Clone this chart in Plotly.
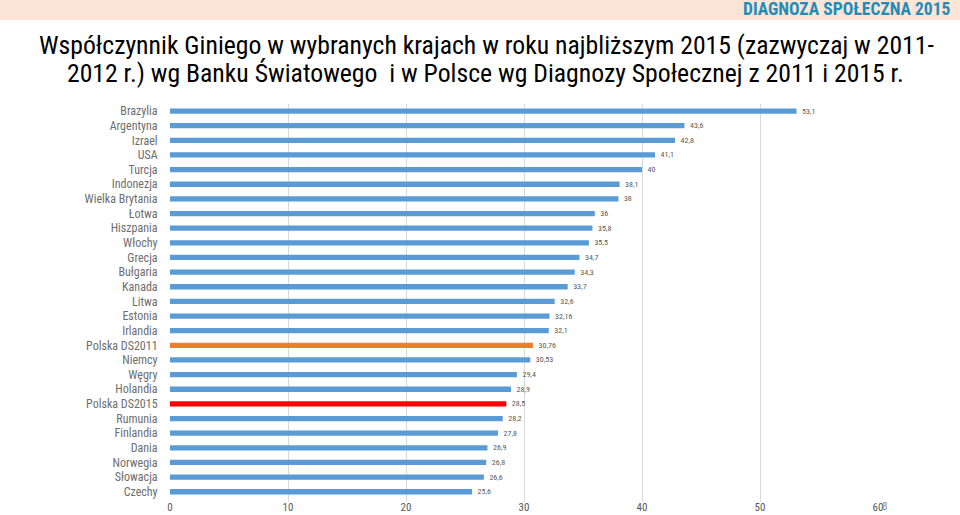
import plotly.graph_objects as go

countries = ["Brazylia", "Argentyna", "Izrael", "USA", "Turcja", "Indonezja",
             "Wielka Brytania", "Łotwa", "Hiszpania", "Włochy", "Grecja", "Bułgaria",
             "Kanada", "Litwa", "Estonia", "Irlandia", "Polska DS2011", "Niemcy",
             "Węgry", "Holandia", "Polska DS2015", "Rumunia", "Finlandia", "Dania",
             "Norwegia", "Słowacja", "Czechy"]
gini = [53.1, 43.6, 42.8, 41.1, 40, 38.1, 38, 36, 35.8, 35.5, 34.7, 34.3,
        33.7, 32.6, 32.16, 32.1, 30.76, 30.53, 29.4, 28.9, 28.5, 28.2, 27.8,
        26.9, 26.8, 26.6, 25.6]
x_ticks = [0, 10, 20, 30, 40, 50, 60]

BLUE = "#5B9BD5"
ORANGE = "#ED7D31"
RED = "#FF0000"
colors = [ORANGE if c == "Polska DS2011" else RED if c == "Polska DS2015" else BLUE
          for c in countries]
labels = ["   " + f"{v:g}".replace(".", ",") for v in gini]

FONT = "Liberation Sans Narrow, Roboto Condensed, Lato, sans-serif"
W, H = 960, 515
ML, MR, MT, MB = 170, 82, 104, 13
PW, PH = W - ML - MR, H - MT - MB


def px_x(px):
    return (px - ML) / PW


def px_y(py):
    return (H - MB - py) / PH


fig = go.Figure(go.Bar(
    x=gini, y=countries, orientation="h",
    marker=dict(color=colors, line=dict(width=0)),
    text=labels, textposition="outside", constraintext="none",
    textfont=dict(size=8, color="#595959", family=FONT),
    cliponaxis=False,
))

fig.update_layout(
    width=W, height=H,
    margin=dict(l=ML, r=MR, t=MT, b=MB, autoexpand=False),
    paper_bgcolor="white", plot_bgcolor="white",
    bargap=0.64,
    showlegend=False,
    font=dict(family=FONT, color="#595959"),
    xaxis=dict(range=[0, 60], tickvals=x_ticks, showgrid=True, gridcolor="#D9D9D9",
               gridwidth=1, zeroline=False, showline=False, ticks="",
               automargin=False, ticklabelstandoff=-3,
               tickfont=dict(size=11, color="#595959"), fixedrange=True),
    yaxis=dict(range=[26.7, -0.48], showgrid=False, zeroline=False, automargin=False,
               showline=False, ticks="outside", ticklen=9, tickcolor="rgba(0,0,0,0)",
               tickfont=dict(size=12, color="#6E6E6E"), fixedrange=True),
    shapes=[dict(type="rect", xref="paper", yref="paper", x0=px_x(-5), x1=px_x(W + 5),
                 y0=px_y(20), y1=px_y(-5),
                 fillcolor="#FCE4D6", line=dict(width=0), layer="below")],
    annotations=[
        dict(text="<b>DIAGNOZA SPOŁECZNA 2015</b>", xref="paper", yref="paper",
             x=px_x(953), y=px_y(9),
             xanchor="right", yanchor="middle", showarrow=False,
             font=dict(size=17.5, color="#1F8DB8", family=FONT)),
        dict(text="Współczynnik Giniego w wybranych krajach w roku najbliższym 2015 (zazwyczaj w 2011-",
             xref="paper", yref="paper",
             x=px_x(486), y=px_y(45),
             xanchor="center", yanchor="middle", showarrow=False,
             font=dict(size=25.7, color="#000000", family=FONT)),
        dict(text="2012 r.) wg Banku Światowego  i w Polsce wg Diagnozy Społecznej z 2011 i 2015 r.",
             xref="paper", yref="paper",
             x=px_x(485), y=px_y(73),
             xanchor="center", yanchor="middle", showarrow=False,
             font=dict(size=25.7, color="#000000", family=FONT)),
        dict(text="8", xref="paper", yref="paper",
             x=px_x(884), y=px_y(506),
             xanchor="center", yanchor="middle", showarrow=False,
             font=dict(size=11, color="#8C8C8C", family=FONT)),
    ],
)

fig.write_html("out.html", config={"displayModeBar": False},
               post_script="document.body.style.margin='0';document.body.style.overflow='hidden';")
